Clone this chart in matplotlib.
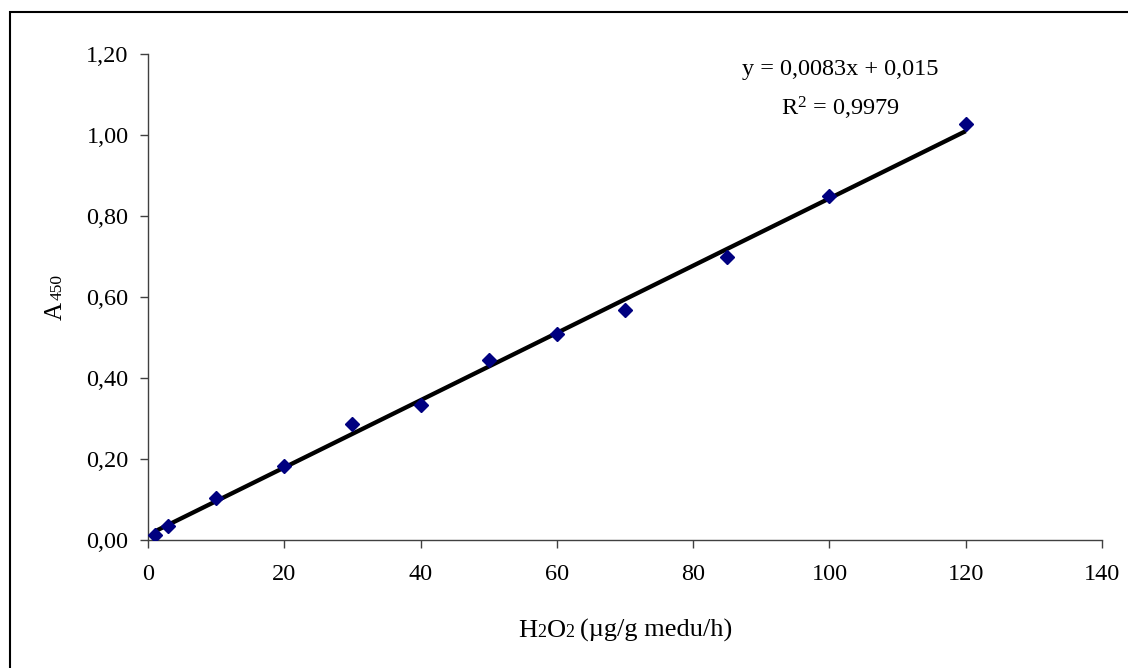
import numpy as np
import matplotlib
matplotlib.use("Agg")
import matplotlib.pyplot as plt
from matplotlib.patches import Rectangle
from matplotlib.ticker import FuncFormatter

plt.rcParams['font.family'] = ['Liberation Serif', 'DejaVu Serif']
plt.rcParams['mathtext.fontset'] = 'custom'
plt.rcParams['mathtext.rm'] = 'Liberation Serif'
plt.rcParams['mathtext.it'] = 'Liberation Serif:italic'

# Data
h2o2 = [1, 3, 10, 20, 30, 40, 50, 60, 70, 85, 100, 120]
a450 = [0.013, 0.034, 0.103, 0.183, 0.286, 0.334, 0.444, 0.508, 0.567, 0.700, 0.849, 1.026]
eq_text = "y = 0,0083x + 0,015"
r2_text = "R$^{2}$ = 0,9979"
x_ticks = [0, 20, 40, 60, 80, 100, 120, 140]
y_ticks = [0.0, 0.2, 0.4, 0.6, 0.8, 1.0, 1.2]

W, H = 1128, 668
fig = plt.figure(figsize=(W / 100, H / 100), dpi=100)
fig.patch.set_facecolor('white')

# outer chart border (right/bottom edges fall outside the image)
fig.patches.append(Rectangle((10 / W, -0.2), 1.5, 1.2 - 12 / H, transform=fig.transFigure,
                             fill=False, edgecolor='black', linewidth=1.5))

ax = fig.add_axes([148 / W, 1 - 540 / H, (1102 - 148) / W, (540 - 54) / H])

# trend line (linear fit)
coef = np.polyfit(h2o2, a450, 1)
xs = np.array([min(h2o2), max(h2o2)])
ax.plot(xs, np.polyval(coef, xs), color='black', linewidth=3.1, solid_capstyle='butt', zorder=2)
ax.plot(h2o2, a450, linestyle='none', marker='D', markersize=7.4, color='#000080',
        markeredgecolor='#000080', zorder=3)

ax.set_xlim(0, 140)
ax.set_ylim(0, 1.2)
ax.set_xticks(x_ticks)
ax.set_yticks(y_ticks)
ax.xaxis.set_major_formatter(FuncFormatter(lambda v, p: f"{v:.0f}"))
ax.yaxis.set_major_formatter(FuncFormatter(lambda v, p: f"{v:.2f}".replace('.', ',')))

for s in ['top', 'right']:
    ax.spines[s].set_visible(False)
for s in ['left', 'bottom']:
    ax.spines[s].set_color('#404040')
    ax.spines[s].set_linewidth(1.0)
ax.tick_params(axis='both', direction='out', length=6, width=1.0, color='#404040',
               labelsize=17.5, labelcolor='black')
ax.tick_params(axis='y', pad=8)
ax.tick_params(axis='x', pad=11)

# equation text
fig.text(840 / W, 1 - 75 / H, eq_text, ha='center', va='baseline', fontsize=17.5)
fig.text(840 / W, 1 - 115 / H, r2_text, ha='center', va='baseline', fontsize=17.5)

# labels with same-baseline smaller digits
fig.canvas.draw()
renderer = fig.canvas.get_renderer()

def width_of(s, size):
    t = fig.text(0, 0, s, fontsize=size)
    w = t.get_window_extent(renderer).width
    t.remove()
    return w

big, small = 19, 13
xpieces = [("H", big), ("2", small), ("O", big), ("2", small), ("(µg/g medu/h)", big)]
gaps = [0, 0, 0, 0, 5]
widths = [width_of(s, sz) for s, sz in xpieces]
total = sum(widths) + sum(gaps)
cx = (148 + 1102) / 2
x0 = cx - total / 2
yb = 637
for (s, sz), w, g in zip(xpieces, widths, gaps):
    x0 += g
    fig.text(x0 / W, 1 - yb / H, s, fontsize=sz, ha='left', va='baseline')
    x0 += w

ypieces = [("A", 18), ("450", 12.5)]
gaps_y = [0, 1]
widths_y = [width_of(s, sz) for s, sz in ypieces]
total_y = sum(widths_y) + sum(gaps_y)
cy = (54 + 540) / 2
ypos = cy + total_y / 2  # bottom (pixel from top)
xb = 62
for (s, sz), w, g in zip(ypieces, widths_y, gaps_y):
    ypos -= g
    fig.text(xb / W, 1 - ypos / H, s, fontsize=sz, rotation=90, rotation_mode='anchor',
             ha='left', va='baseline')
    ypos -= w

fig.savefig("out.png", dpi=100, facecolor='white')
